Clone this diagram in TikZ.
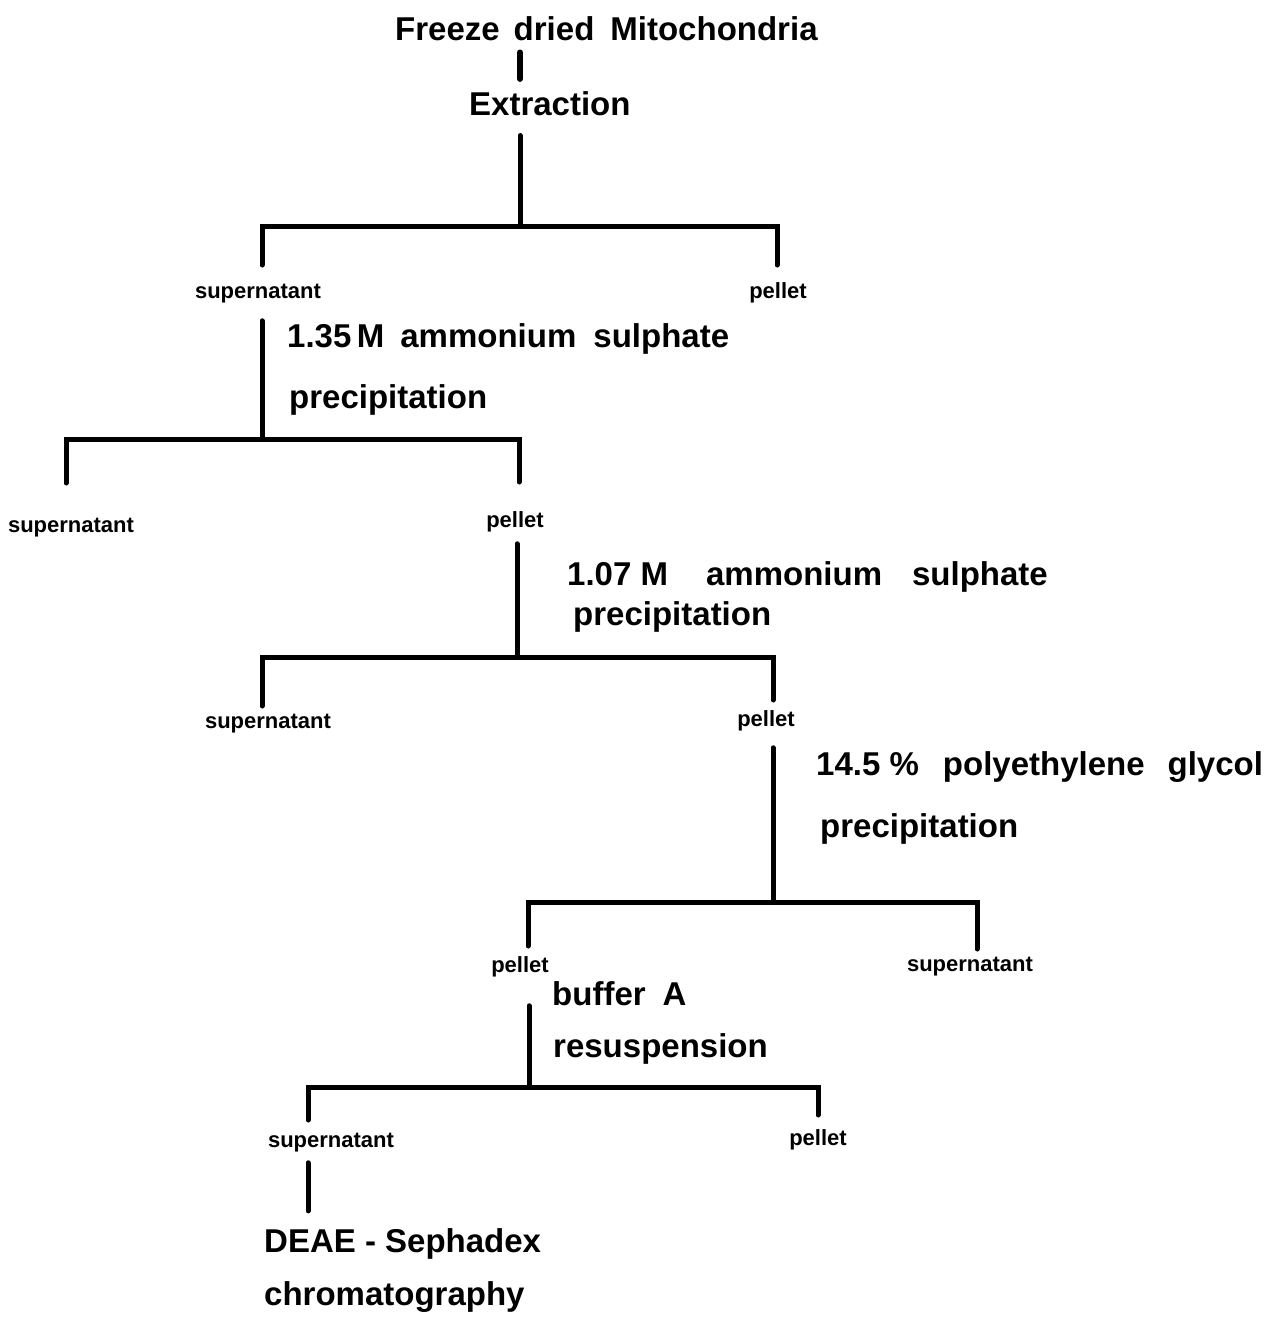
\documentclass[tikz,border=0pt]{standalone}
\usepackage{fontspec}
\setmainfont{Liberation Sans}
\usetikzlibrary{calc}

\begin{document}
\begin{tikzpicture}[x=1pt,y=-1pt,
  big/.style={font=\fontsize{33}{36}\selectfont\bfseries, inner sep=0pt, anchor=base west},
  lab/.style={font=\fontsize{22}{24}\selectfont\bfseries, inner sep=0pt, anchor=base},
  bar/.style={line width=5pt, line cap=round, line join=miter},
  stem/.style={line width=5pt, line cap=round}]
\useasboundingbox (0,0) rectangle (1272,1325);

% steps
\node[big] (freeze) at (395,40) {Freeze\hspace{14pt}dried\hspace{16pt}Mitochondria};
\node[big] (ext) at (469,115) {Extraction};
\node[big] (s1a) at (287,347) {1.35\,M\hspace{16pt}ammonium\hspace{17pt}sulphate};
\node[big] (s1b) at (289,408) {precipitation};
\node[big] (s2a) at (567,585) {1.07 M\hspace{38pt}ammonium\hspace{30pt}sulphate};
\node[big] (s2b) at (573,625) {precipitation};
\node[big] (s3a) at (816,775) {14.5 \%\hspace{24pt}polyethylene\hspace{23pt}glycol};
\node[big] (s3b) at (820,837) {precipitation};
\node[big] (buf) at (552,1005) {buffer\hspace{17pt}A};
\node[big] (res) at (553,1057) {resuspension};
\node[big] (deae) at (264,1252) {DEAE - Sephadex};
\node[big] (chrom) at (264,1305) {chromatography};

% fractions
\node[lab] (sup1) at (258,298) {supernatant};
\node[lab] (pel1) at (778,298) {pellet};
\node[lab] (sup2) at (71,532) {supernatant};
\node[lab] (pel2) at (515,527) {pellet};
\node[lab] (sup3) at (268,728) {supernatant};
\node[lab] (pel3) at (766,726) {pellet};
\node[lab] (pel4) at (520,972) {pellet};
\node[lab] (sup4) at (970,971) {supernatant};
\node[lab] (sup5) at (331,1147) {supernatant};
\node[lab] (pel5) at (818,1145) {pellet};

% brackets
\coordinate (j1) at (520,226);
\coordinate (l1a) at (262,265);
\coordinate (l1b) at (777,265);
\coordinate (j2) at (262,439);
\coordinate (l2a) at (66,483);
\coordinate (l2b) at (519,482);
\coordinate (j3) at (517,657);
\coordinate (l3a) at (262,706);
\coordinate (l3b) at (773,700);
\coordinate (j4) at (773,902);
\coordinate (l4a) at (528,946);
\coordinate (l4b) at (977,949);
\coordinate (j5) at (529,1087);
\coordinate (l5a) at (308,1120);
\coordinate (l5b) at (818,1115);

\draw[stem, line width=6pt] ([yshift=-12pt]freeze.south -| j1) -- ([yshift=12pt]ext.north -| j1);
\draw[stem] ([yshift=-20pt]ext.south -| j1) -- (j1);
\draw[bar] (l1a) |- (j1) -| (l1b);
\draw[stem] ([yshift=-18pt]sup1.south -| j2) -- (j2);
\draw[bar] (l2a) |- (j2) -| (l2b);
\draw[stem] ([yshift=-12pt]pel2.south -| j3) -- (j3);
\draw[bar] (l3a) |- (j3) -| (l3b);
\draw[stem] ([yshift=-17pt]pel3.south -| j4) -- (j4);
\draw[bar] (l4a) |- (j4) -| (l4b);
\draw[stem] ([yshift=-29pt]pel4.south -| j5) -- (j5);
\draw[bar] (l5a) |- (j5) -| (l5b);
\draw[stem] ([yshift=-11pt]sup5.south -| l5a) -- ([yshift=17pt]deae.north -| l5a);
\end{tikzpicture}
\end{document}
